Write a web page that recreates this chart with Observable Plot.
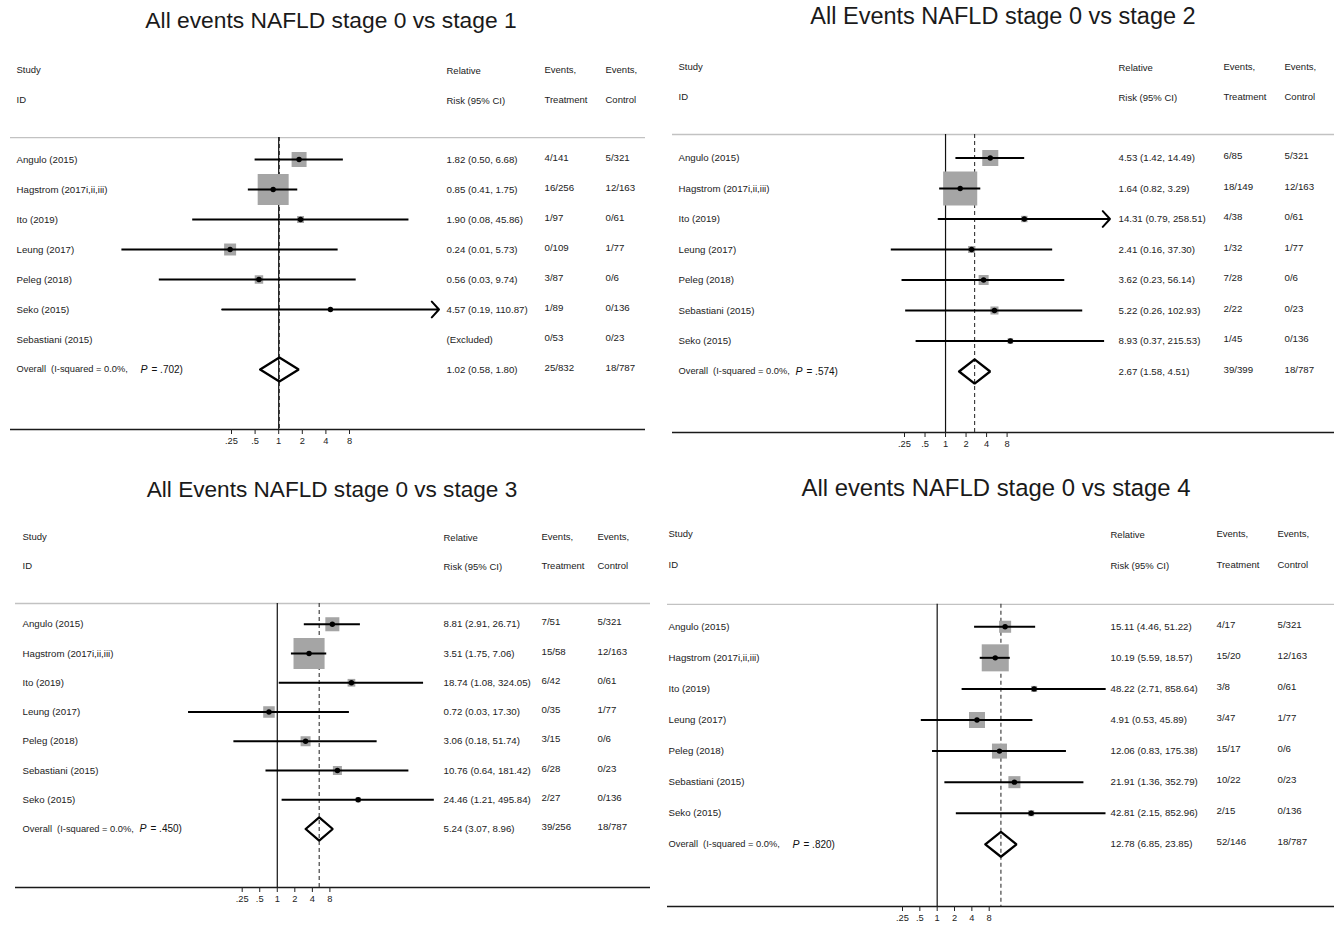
<!DOCTYPE html>
<html>
<head>
<meta charset="utf-8">
<script src="https://cdn.jsdelivr.net/npm/d3@7"></script>
<script src="https://cdn.jsdelivr.net/npm/@observablehq/plot@0.6"></script>
<style>
  html, body { margin: 0; padding: 0; background: #fff; }
  #wrap { position: relative; width: 1334px; height: 927px; overflow: hidden; background: #fff; }
  .panel { position: absolute; width: 667px; height: 464px; }
  .panel svg { position: absolute; left: 0; top: 0; }
  .title { position: absolute; width: 667px; text-align: center; line-height: 1; white-space: nowrap;
           font-family: "Liberation Sans", Arial, sans-serif; color: #1a1a1a; z-index: 2; }
</style>
</head>
<body>
<div id="wrap"></div>
<script>
// ---------------- DATA ----------------
const titles = [
  "All events NAFLD stage 0 vs stage 1",
  "All Events NAFLD stage 0 vs stage 2",
  "All Events NAFLD stage 0 vs stage 3",
  "All events NAFLD stage 0 vs stage 4"
];
const headerTop = ["Study", "Relative", "Events,", "Events,"];
const headerBottom = ["ID", "Risk (95% CI)", "Treatment", "Control"];
const tickValues = [0.25, 0.5, 1, 2, 4, 8];
const tickLabels = [".25", ".5", "1", "2", "4", "8"];
const iSquared = ["0.0%", "0.0%", "0.0%", "0.0%"];

// Panel 1: stage 0 vs stage 1
const studiesP1 = ["Angulo (2015)", "Hagstrom (2017i,ii,iii)", "Ito (2019)", "Leung (2017)", "Peleg (2018)", "Seko (2015)", "Sebastiani (2015)"];
const rrP1 = [1.82, 0.85, 1.90, 0.24, 0.56, 4.57, null];
const loP1 = [0.50, 0.41, 0.08, 0.01, 0.03, 0.19, null];
const hiP1 = [6.68, 1.75, 45.86, 5.73, 9.74, 110.87, null];
const weightP1 = [15.3, 65.5, 3.3, 9.8, 4.9, 1.1, null];
const evTP1 = ["4/141", "16/256", "1/97", "0/109", "3/87", "1/89", "0/53"];
const evCP1 = ["5/321", "12/163", "0/61", "1/77", "0/6", "0/136", "0/23"];
const arrowP1 = ["Seko (2015)"];
const overallP1 = [1.02, 0.58, 1.80];
const overallEvP1 = ["25/832", "18/787"];
const pValueP1 = ".702";

// Panel 2: stage 0 vs stage 2
const studiesP2 = ["Angulo (2015)", "Hagstrom (2017i,ii,iii)", "Ito (2019)", "Leung (2017)", "Peleg (2018)", "Sebastiani (2015)", "Seko (2015)"];
const rrP2 = [4.53, 1.64, 14.31, 2.41, 3.62, 5.22, 8.93];
const loP2 = [1.42, 0.82, 0.79, 0.16, 0.23, 0.26, 0.37];
const hiP2 = [14.49, 3.29, 258.51, 37.30, 56.14, 102.93, 215.53];
const weightP2 = [15.1, 68.2, 2.4, 2.9, 5.9, 3.8, 1.8];
const evTP2 = ["6/85", "18/149", "4/38", "1/32", "7/28", "2/22", "1/45"];
const evCP2 = ["5/321", "12/163", "0/61", "1/77", "0/6", "0/23", "0/136"];
const arrowP2 = ["Ito (2019)"];
const overallP2 = [2.67, 1.58, 4.51];
const overallEvP2 = ["39/399", "18/787"];
const pValueP2 = ".574";

// Panel 3: stage 0 vs stage 3
const studiesP3 = ["Angulo (2015)", "Hagstrom (2017i,ii,iii)", "Ito (2019)", "Leung (2017)", "Peleg (2018)", "Sebastiani (2015)", "Seko (2015)"];
const rrP3 = [8.81, 3.51, 18.74, 0.72, 3.06, 10.76, 24.46];
const loP3 = [2.91, 1.75, 1.08, 0.03, 0.18, 0.64, 1.21];
const hiP3 = [26.71, 7.06, 324.05, 17.30, 51.74, 181.42, 495.84];
const weightP3 = [12.6, 61.8, 3.8, 8.5, 6.4, 5.2, 1.6];
const evTP3 = ["7/51", "15/58", "6/42", "0/35", "3/15", "6/28", "2/27"];
const evCP3 = ["5/321", "12/163", "0/61", "1/77", "0/6", "0/23", "0/136"];
const arrowP3 = [];
const overallP3 = [5.24, 3.07, 8.96];
const overallEvP3 = ["39/256", "18/787"];
const pValueP3 = ".450";

// Panel 4: stage 0 vs stage 4
const studiesP4 = ["Angulo (2015)", "Hagstrom (2017i,ii,iii)", "Ito (2019)", "Leung (2017)", "Peleg (2018)", "Sebastiani (2015)", "Seko (2015)"];
const rrP4 = [15.11, 10.19, 48.22, 4.91, 12.06, 21.91, 42.81];
const loP4 = [4.46, 5.59, 2.71, 0.53, 0.83, 1.36, 2.15];
const hiP4 = [51.22, 18.57, 858.64, 45.89, 175.38, 352.79, 852.96];
const weightP4 = [9.2, 46.4, 2.3, 16.3, 14.3, 9.2, 2.3];
const evTP4 = ["4/17", "15/20", "3/8", "3/47", "15/17", "10/22", "2/15"];
const evCP4 = ["5/321", "12/163", "0/61", "1/77", "0/6", "0/23", "0/136"];
const arrowP4 = [];
const overallP4 = [12.78, 6.85, 23.85];
const overallEvP4 = ["52/146", "18/787"];
const pValueP4 = ".820";

// ---------------- LAYOUT (styles, not data) ----------------
const layouts = [
  {left: 0,   top: 0,   L: 10, R: 22, y0: 69, y12: 429, x25: 231,   x8: 349,   gray: 2.27, cS: 6, cRR: 436, cT: 534, cC: 595, pDx: 130, rMax: 21.6, tcx: 331, tcy: 20, tfs: 22.8},
  {left: 667, top: 0,   L: 5,  R: 0,  y0: 66, y12: 432, x25: 237,   x8: 339.6, gray: 2.23, cS: 6, cRR: 446, cT: 551, cC: 612, pDx: 123, rMax: 23.3, tcx: 336, tcy: 17, tfs: 23.5},
  {left: 0,   top: 463, L: 15, R: 17, y0: 73, y12: 424, x25: 241.7, x8: 329.4, gray: 2.29, cS: 7, cRR: 428, cT: 526, cC: 582, pDx: 124, rMax: 22.3, tcx: 332, tcy: 27, tfs: 22.6},
  {left: 667, top: 463, L: 0,  R: 0,  y0: 70, y12: 443, x25: 235,   x8: 321.7, gray: 2.28, cS: 1, cRR: 443, cT: 549, cC: 610, pDx: 125, rMax: 22.4, tcx: 329, tcy: 25, tfs: 23.9}
];

const panels = [
  {studies: studiesP1, rr: rrP1, lo: loP1, hi: hiP1, w: weightP1, evT: evTP1, evC: evCP1, arrow: arrowP1, overall: overallP1, overallEv: overallEvP1, p: pValueP1},
  {studies: studiesP2, rr: rrP2, lo: loP2, hi: hiP2, w: weightP2, evT: evTP2, evC: evCP2, arrow: arrowP2, overall: overallP2, overallEv: overallEvP2, p: pValueP2},
  {studies: studiesP3, rr: rrP3, lo: loP3, hi: hiP3, w: weightP3, evT: evTP3, evC: evCP3, arrow: arrowP3, overall: overallP3, overallEv: overallEvP3, p: pValueP3},
  {studies: studiesP4, rr: rrP4, lo: loP4, hi: hiP4, w: weightP4, evT: evTP4, evC: evCP4, arrow: arrowP4, overall: overallP4, overallEv: overallEvP4, p: pValueP4}
];

const f2 = d3.format(".2f");
const FONT = "'Liberation Sans', Arial, Helvetica, sans-serif";
const TXT = "#222";
const FS = 9.7;

function drawPanel(P, lay, k) {
  const rows = P.studies.map((s, i) => ({
    study: s, rr: P.rr[i], lo: P.lo[i], hi: P.hi[i], w: P.w[i],
    evT: P.evT[i], evC: P.evC[i], arrow: P.arrow.includes(s), row: i + 3,
    ci: P.rr[i] == null ? "(Excluded)" : `${f2(P.rr[i])} (${f2(P.lo[i])}, ${f2(P.hi[i])})`
  }));
  const est = rows.filter(d => d.rr != null);
  const oRow = rows.length + 3;
  const axisRow = oRow + 2;
  const [orr, olo, ohi] = P.overall;
  const ov = {row: oRow, ci: `${f2(orr)} (${f2(olo)}, ${f2(ohi)})`, evT: P.overallEv[0], evC: P.overallEv[1]};
  const h = 0.4;
  const diamond = [
    {x: olo, y: oRow}, {x: orr, y: oRow - h}, {x: ohi, y: oRow}, {x: orr, y: oRow + h}, {x: olo, y: oRow}
  ];
  const headers = [0, 1].flatMap(r => (r === 0 ? headerTop : headerBottom).map((t, c) => ({row: r, col: c, t})));
  const colDx = [lay.cS, lay.cRR, lay.cT, lay.cC];
  const colDy = [0, 1, 0, 0];
  const ticks = tickValues.map((v, i) => ({v, label: tickLabels[i]}));
  // one doubling of the log axis, in pixels (0.25 -> 8 spans five doublings)
  const step = (lay.x8 - lay.x25) / 5;
  const rowPx = (lay.y12 - lay.y0) / axisRow;
  const tickLen = 5 / rowPx;

  const H = 464;
  const plot = Plot.plot({
    width: 667,
    height: H,
    marginLeft: lay.L,
    marginRight: lay.R,
    marginTop: 0,
    marginBottom: 0,
    style: {fontFamily: FONT, fontSize: "9.5px", color: TXT, background: "transparent", overflow: "visible"},
    x: {type: "log", domain: [0.125, 16], range: [lay.x25 - step, lay.x8 + step], axis: null},
    y: {domain: [0, axisRow], range: [lay.y0, lay.y12], axis: null},
    r: {type: "sqrt", domain: [0, 100], range: [0, lay.rMax]},
    marks: [
      // headers
      ...[0, 1, 2, 3].map(c => Plot.text(headers.filter(d => d.col === c), {
        y: "row", text: "t", frameAnchor: "left", textAnchor: "start", dx: colDx[c],
        dy: colDy[c], fontSize: 9.5, fill: TXT
      })),
      // separators
      Plot.ruleY([lay.gray], {stroke: "#c2c2c2", strokeWidth: 1.3}),
      Plot.ruleY([axisRow], {stroke: "#1a1a1a", strokeWidth: 1.4}),
      // x axis ticks and labels
      Plot.ruleX(ticks, {x: "v", y1: axisRow, y2: axisRow + tickLen, stroke: "#222", strokeWidth: 1}),
      Plot.text(ticks, {x: "v", y: axisRow, text: "label", dy: 12, fontSize: 9.3, fill: TXT}),
      // null line and overall dashed line
      Plot.ruleX([1], {y1: lay.gray, y2: axisRow, stroke: "#111", strokeWidth: 1.2}),
      Plot.ruleX([orr], {y1: lay.gray, y2: axisRow, stroke: "#333", strokeWidth: 1.1, strokeDasharray: "4,3"}),
      // weight boxes
      Plot.dot(est, {x: "rr", y: "row", r: "w", symbol: "square", fill: "#a5a5a5"}),
      // CI lines
      Plot.ruleY(est.filter(d => !d.arrow), {y: "row", x1: "lo", x2: "hi", stroke: "#000", strokeWidth: 2}),
      Plot.arrow(est.filter(d => d.arrow), {x1: "lo", x2: "hi", y1: "row", y2: "row", stroke: "#000",
        strokeWidth: 2, headLength: 8, headAngle: 95}),
      // point estimates
      Plot.dot(est, {x: "rr", y: "row", r: 2.7, fill: "#000"}),
      // overall diamond
      Plot.line(diamond, {x: "x", y: "y", stroke: "#000", strokeWidth: 2.3, strokeLinejoin: "miter"}),
      // study labels and columns
      Plot.text(rows, {y: "row", text: "study", frameAnchor: "left", textAnchor: "start", dx: lay.cS, fontSize: FS, fill: TXT}),
      Plot.text(rows, {y: "row", text: "ci", frameAnchor: "left", textAnchor: "start", dx: lay.cRR, fontSize: FS, fill: TXT}),
      Plot.text(rows, {y: "row", text: "evT", frameAnchor: "left", textAnchor: "start", dx: lay.cT, dy: -2, fontSize: FS, fill: TXT}),
      Plot.text(rows, {y: "row", text: "evC", frameAnchor: "left", textAnchor: "start", dx: lay.cC, dy: -2, fontSize: FS, fill: TXT}),
      // overall row text
      Plot.text([ov], {y: "row", text: d => `Overall  (I-squared = ${iSquared[k]},`, frameAnchor: "left", textAnchor: "start", dx: lay.cS, fontSize: 9.3, fill: TXT}),
      Plot.text([ov], {y: "row", text: d => "P", frameAnchor: "left", textAnchor: "start", dx: lay.pDx, fontSize: 10.5, fontStyle: "italic", fill: "#111"}),
      Plot.text([ov], {y: "row", text: d => `= ${P.p})`, frameAnchor: "left", textAnchor: "start", dx: lay.pDx + 11, fontSize: 10, fill: "#111"}),
      Plot.text([ov], {y: "row", text: "ci", frameAnchor: "left", textAnchor: "start", dx: lay.cRR, fontSize: FS, fill: TXT}),
      Plot.text([ov], {y: "row", text: "evT", frameAnchor: "left", textAnchor: "start", dx: lay.cT, dy: -2, fontSize: FS, fill: TXT}),
      Plot.text([ov], {y: "row", text: "evC", frameAnchor: "left", textAnchor: "start", dx: lay.cC, dy: -2, fontSize: FS, fill: TXT})
    ]
  });

  const div = document.createElement("div");
  div.className = "panel";
  div.style.left = lay.left + "px";
  div.style.top = lay.top + "px";
  const t = document.createElement("div");
  t.className = "title";
  t.textContent = titles[k];
  t.style.fontSize = lay.tfs + "px";
  t.style.left = (lay.tcx - 333.5) + "px";
  t.style.top = (lay.tcy - 0.49 * lay.tfs) + "px";
  div.appendChild(plot);
  div.appendChild(t);
  return div;
}

const wrap = document.getElementById("wrap");
panels.forEach((P, k) => wrap.appendChild(drawPanel(P, layouts[k], k)));
</script>
</body>
</html>
